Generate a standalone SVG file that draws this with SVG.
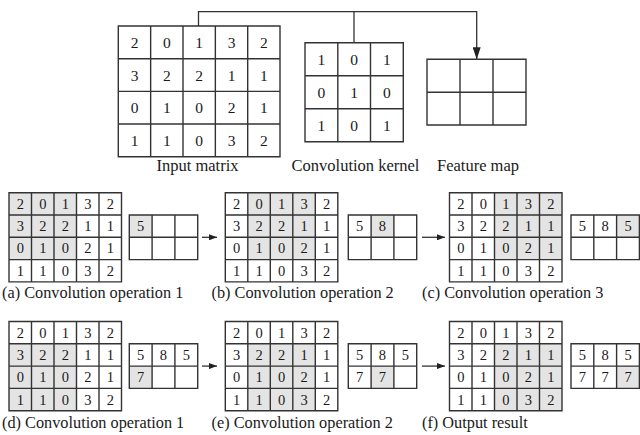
<svg xmlns="http://www.w3.org/2000/svg" xmlns:xlink="http://www.w3.org/1999/xlink" width="640" height="435" viewBox="0 0 640 435" font-family="'Liberation Serif', 'DejaVu Serif', serif">
<style>
.g{fill:none;stroke:#333;stroke-width:1.4}
.sh{fill:#e4e4e4;stroke:none}
text{font-family:'Liberation Serif','DejaVu Serif',serif;fill:#1a1a1a}
.d{font-size:15.5px;text-anchor:middle}
.s{font-size:14.5px;text-anchor:middle}
.l{font-size:16.3px}
.lc{font-size:16.5px;text-anchor:middle}
.c{fill:none;stroke:#333;stroke-width:1.3}
</style>
<defs>
<marker id="ah" markerUnits="userSpaceOnUse" markerWidth="12" markerHeight="8" refX="12" refY="4" orient="auto"><path d="M0,0 L12,4 L0,8 z" fill="#222"/></marker>
<marker id="as" markerUnits="userSpaceOnUse" markerWidth="8" markerHeight="6" refX="8" refY="3" orient="auto"><path d="M0,0 L8,3 L0,6 z" fill="#222"/></marker>
<path id="ig" class="g" d="M0 0H112.5V89.2H0Z M22.5 0V89.2 M45 0V89.2 M67.5 0V89.2 M90 0V89.2 M0 22.3H112.5 M0 44.6H112.5 M0 66.9H112.5"/>
<path id="og" class="g" d="M0 0H68.4V44.6H0Z M22.8 0V44.6 M45.6 0V44.6 M0 22.3H68.4"/>
<g id="iv">
<text class="s" x="11.25" y="16.2">2</text><text class="s" x="33.75" y="16.2">0</text><text class="s" x="56.25" y="16.2">1</text><text class="s" x="78.75" y="16.2">3</text><text class="s" x="101.25" y="16.2">2</text>
<text class="s" x="11.25" y="38.5">3</text><text class="s" x="33.75" y="38.5">2</text><text class="s" x="56.25" y="38.5">2</text><text class="s" x="78.75" y="38.5">1</text><text class="s" x="101.25" y="38.5">1</text>
<text class="s" x="11.25" y="60.8">0</text><text class="s" x="33.75" y="60.8">1</text><text class="s" x="56.25" y="60.8">0</text><text class="s" x="78.75" y="60.8">2</text><text class="s" x="101.25" y="60.8">1</text>
<text class="s" x="11.25" y="83.1">1</text><text class="s" x="33.75" y="83.1">1</text><text class="s" x="56.25" y="83.1">0</text><text class="s" x="78.75" y="83.1">3</text><text class="s" x="101.25" y="83.1">2</text>
</g>
</defs>

<g id="connectors">
<path class="c" d="M198.5 26V11.7H476.7V59.3" marker-end="url(#ah)"/>
<path class="c" d="M354 11.7V42.7"/>
<path class="c" d="M202 237.3H217" marker-end="url(#as)"/>
<path class="c" d="M422 237.3H445" marker-end="url(#as)"/>
<path class="c" d="M202 366.1H217" marker-end="url(#as)"/>
<path class="c" d="M422 366.1H445" marker-end="url(#as)"/>
</g>

<g id="input-matrix">
<path class="g" d="M118.3 26H280V156.7H118.3Z M150.65 26V156.7 M183 26V156.7 M215.35 26V156.7 M247.7 26V156.7 M118.3 58.7H280 M118.3 91.4H280 M118.3 124H280"/>
<text class="d" x="134.5" y="47.8">2</text><text class="d" x="166.8" y="47.8">0</text><text class="d" x="199.2" y="47.8">1</text><text class="d" x="231.5" y="47.8">3</text><text class="d" x="263.9" y="47.8">2</text>
<text class="d" x="134.5" y="80.5">3</text><text class="d" x="166.8" y="80.5">2</text><text class="d" x="199.2" y="80.5">2</text><text class="d" x="231.5" y="80.5">1</text><text class="d" x="263.9" y="80.5">1</text>
<text class="d" x="134.5" y="113.2">0</text><text class="d" x="166.8" y="113.2">1</text><text class="d" x="199.2" y="113.2">0</text><text class="d" x="231.5" y="113.2">2</text><text class="d" x="263.9" y="113.2">1</text>
<text class="d" x="134.5" y="145.8">1</text><text class="d" x="166.8" y="145.8">1</text><text class="d" x="199.2" y="145.8">0</text><text class="d" x="231.5" y="145.8">3</text><text class="d" x="263.9" y="145.8">2</text>
<text class="lc" x="197.5" y="171">Input matrix</text>
</g>

<g id="kernel">
<path class="g" d="M305 42.7H403.3V141.7H305Z M337.8 42.7V141.7 M370.5 42.7V141.7 M305 75.7H403.3 M305 108.7H403.3"/>
<text class="d" x="321.4" y="64.8">1</text><text class="d" x="354.1" y="64.8">0</text><text class="d" x="386.9" y="64.8">1</text>
<text class="d" x="321.4" y="97.8">0</text><text class="d" x="354.1" y="97.8">1</text><text class="d" x="386.9" y="97.8">0</text>
<text class="d" x="321.4" y="130.8">1</text><text class="d" x="354.1" y="130.8">0</text><text class="d" x="386.9" y="130.8">1</text>
<text class="lc" x="355.5" y="171">Convolution kernel</text>
</g>

<g id="feature-map">
<path class="g" d="M427 59.3H526V125H427Z M460 59.3V125 M493 59.3V125 M427 92.2H526"/>
<text class="lc" x="478" y="171">Feature map</text>
</g>

<g id="panel-a">
<g transform="translate(9,192.7)"><rect class="sh" x="0" y="0" width="67.5" height="66.9"/><use xlink:href="#ig" href="#ig"/><use xlink:href="#iv" href="#iv"/></g>
<g transform="translate(129.3,215)"><rect class="sh" x="0" y="0" width="22.8" height="22.3"/><use xlink:href="#og" href="#og"/><text class="s" x="11.4" y="16.2">5</text></g>
<text class="l" x="2" y="298">(a) Convolution operation 1</text>
</g>

<g id="panel-b">
<g transform="translate(225.3,192.7)"><rect class="sh" x="22.5" y="0" width="67.5" height="66.9"/><use xlink:href="#ig" href="#ig"/><use xlink:href="#iv" href="#iv"/></g>
<g transform="translate(348.3,215)"><rect class="sh" x="22.8" y="0" width="22.8" height="22.3"/><use xlink:href="#og" href="#og"/><text class="s" x="11.4" y="16.2">5</text><text class="s" x="34.2" y="16.2">8</text></g>
<text class="l" x="211.5" y="298">(b) Convolution operation 2</text>
</g>

<g id="panel-c">
<g transform="translate(449.5,192.7)"><rect class="sh" x="45" y="0" width="67.5" height="66.9"/><use xlink:href="#ig" href="#ig"/><use xlink:href="#iv" href="#iv"/></g>
<g transform="translate(571,215)"><rect class="sh" x="45.6" y="0" width="22.8" height="22.3"/><use xlink:href="#og" href="#og"/><text class="s" x="11.4" y="16.2">5</text><text class="s" x="34.2" y="16.2">8</text><text class="s" x="57" y="16.2">5</text></g>
<text class="l" x="422" y="298">(c) Convolution operation 3</text>
</g>

<g id="panel-d">
<g transform="translate(9,321.5)"><rect class="sh" x="0" y="22.3" width="67.5" height="66.9"/><use xlink:href="#ig" href="#ig"/><use xlink:href="#iv" href="#iv"/></g>
<g transform="translate(129.3,343.8)"><rect class="sh" x="0" y="22.3" width="22.8" height="22.3"/><use xlink:href="#og" href="#og"/><text class="s" x="11.4" y="16.2">5</text><text class="s" x="34.2" y="16.2">8</text><text class="s" x="57" y="16.2">5</text><text class="s" x="11.4" y="38.5">7</text></g>
<text class="l" x="2" y="427.5">(d) Convolution operation 1</text>
</g>

<g id="panel-e">
<g transform="translate(225.3,321.5)"><rect class="sh" x="22.5" y="22.3" width="67.5" height="66.9"/><use xlink:href="#ig" href="#ig"/><use xlink:href="#iv" href="#iv"/></g>
<g transform="translate(348.3,343.8)"><rect class="sh" x="22.8" y="22.3" width="22.8" height="22.3"/><use xlink:href="#og" href="#og"/><text class="s" x="11.4" y="16.2">5</text><text class="s" x="34.2" y="16.2">8</text><text class="s" x="57" y="16.2">5</text><text class="s" x="11.4" y="38.5">7</text><text class="s" x="34.2" y="38.5">7</text></g>
<text class="l" x="211.5" y="427.5">(e) Convolution operation 2</text>
</g>

<g id="panel-f">
<g transform="translate(449.5,321.5)"><rect class="sh" x="45" y="22.3" width="67.5" height="66.9"/><use xlink:href="#ig" href="#ig"/><use xlink:href="#iv" href="#iv"/></g>
<g transform="translate(571,343.8)"><rect class="sh" x="45.6" y="22.3" width="22.8" height="22.3"/><use xlink:href="#og" href="#og"/><text class="s" x="11.4" y="16.2">5</text><text class="s" x="34.2" y="16.2">8</text><text class="s" x="57" y="16.2">5</text><text class="s" x="11.4" y="38.5">7</text><text class="s" x="34.2" y="38.5">7</text><text class="s" x="57" y="38.5">7</text></g>
<text class="l" x="422" y="427.5">(f) Output result</text>
</g>
</svg>
